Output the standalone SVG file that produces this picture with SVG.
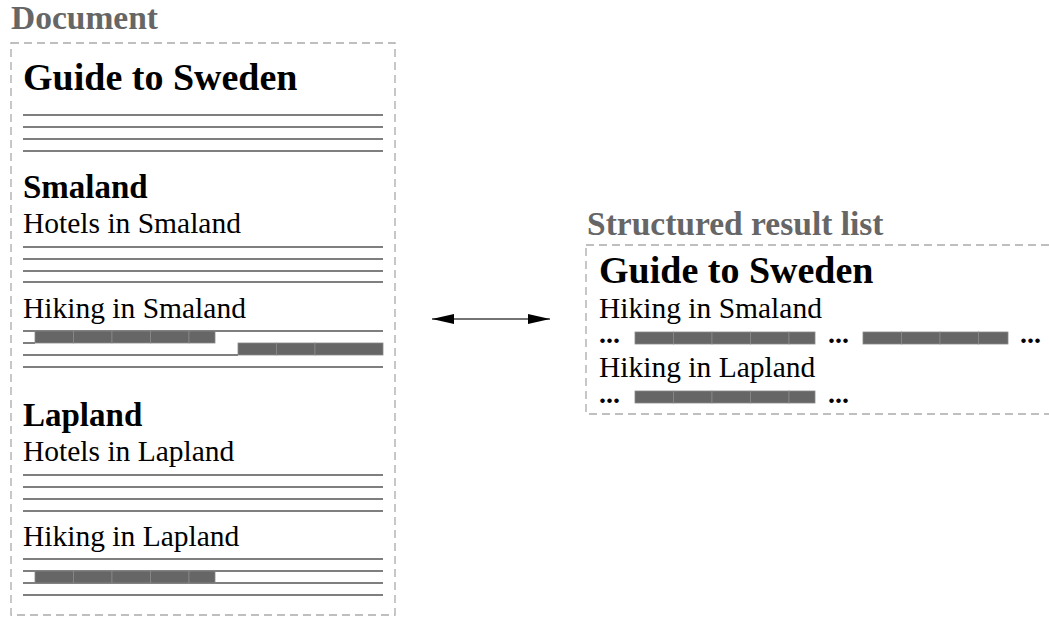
<svg xmlns="http://www.w3.org/2000/svg" width="1049" height="619" viewBox="0 0 1049 619">
<style>
.lbl{font-family:"Liberation Serif","Times New Roman",serif;font-weight:bold;font-size:33.5px;fill:#666}
.title{font-family:"Liberation Serif","Times New Roman",serif;font-weight:bold;font-size:38px;fill:#000}
.head{font-family:"Liberation Serif","Times New Roman",serif;font-weight:bold;font-size:33px;fill:#000}
.txt{font-family:"Liberation Serif","Times New Roman",serif;font-size:29.5px;fill:#000}
.dots{font-family:"Liberation Serif","Times New Roman",serif;font-weight:bold;font-size:28px;fill:#000}
.box{fill:none;stroke:#aaa;stroke-width:1.3;stroke-dasharray:8,5}
.ln{stroke:#555;stroke-width:1.5}
.bar{fill:#666;stroke:#888;stroke-width:0.8}
</style>
<defs>
<marker id="ah" viewBox="0 0 22 10" refX="22" refY="5" markerWidth="22" markerHeight="10" markerUnits="userSpaceOnUse" orient="auto-start-reverse">
<path d="M0,0 L22,5 L0,10 Z" fill="#000"/>
</marker>
</defs>
<g id="document">
<text class="lbl" x="11" y="29">Document</text>
<rect class="box" x="11" y="43" width="384" height="572"/>
<text class="title" x="23" y="90">Guide to Sweden</text>
<g class="ln">
<line x1="23" y1="115" x2="383" y2="115"/>
<line x1="23" y1="127" x2="383" y2="127"/>
<line x1="23" y1="139" x2="383" y2="139"/>
<line x1="23" y1="151" x2="383" y2="151"/>
</g>
<text class="head" x="23" y="198">Smaland</text>
<text class="txt" x="23" y="233">Hotels in Smaland</text>
<g class="ln">
<line x1="23" y1="247" x2="383" y2="247"/>
<line x1="23" y1="259" x2="383" y2="259"/>
<line x1="23" y1="271" x2="383" y2="271"/>
<line x1="23" y1="282" x2="383" y2="282"/>
</g>
<text class="txt" x="23" y="318">Hiking in Smaland</text>
<g class="ln">
<line x1="23" y1="331" x2="383" y2="331"/>
<line x1="23" y1="343" x2="35" y2="343"/>
<line x1="23" y1="355" x2="238" y2="355"/>
<line x1="23" y1="367" x2="383" y2="367"/>
</g>
<g class="bar">
<rect x="35" y="331" width="38.5" height="12"/><rect x="73.5" y="331" width="38.5" height="12"/><rect x="112" y="331" width="38.5" height="12"/><rect x="150.5" y="331" width="38.5" height="12"/><rect x="189" y="331" width="26" height="12"/>
<rect x="238" y="343" width="38.5" height="12"/><rect x="276.5" y="343" width="38.5" height="12"/><rect x="315" y="343" width="68" height="12"/>
</g>
<text class="head" x="23" y="426">Lapland</text>
<text class="txt" x="23" y="461">Hotels in Lapland</text>
<g class="ln">
<line x1="23" y1="475" x2="383" y2="475"/>
<line x1="23" y1="487" x2="383" y2="487"/>
<line x1="23" y1="499" x2="383" y2="499"/>
<line x1="23" y1="511" x2="383" y2="511"/>
</g>
<text class="txt" x="23" y="546">Hiking in Lapland</text>
<g class="ln">
<line x1="23" y1="559" x2="383" y2="559"/>
<line x1="23" y1="571" x2="383" y2="571"/>
<line x1="23" y1="583" x2="383" y2="583"/>
<line x1="23" y1="595" x2="383" y2="595"/>
</g>
<g class="bar">
<rect x="35" y="571" width="38.5" height="12"/><rect x="73.5" y="571" width="38.5" height="12"/><rect x="112" y="571" width="38.5" height="12"/><rect x="150.5" y="571" width="38.5" height="12"/><rect x="189" y="571" width="26" height="12"/>
</g>
</g>
<g id="result-list">
<text class="lbl" x="587" y="235">Structured result list</text>
<rect class="box" x="586" y="245" width="480" height="169"/>
<text class="title" x="599" y="283">Guide to Sweden</text>
<text class="txt" x="599" y="318">Hiking in Smaland</text>
<text class="dots" x="599" y="343">...</text>
<g class="bar">
<rect x="635" y="332" width="38.5" height="12"/><rect x="673.5" y="332" width="38.5" height="12"/><rect x="712" y="332" width="38.5" height="12"/><rect x="750.5" y="332" width="38.5" height="12"/><rect x="789" y="332" width="26" height="12"/>
<rect x="863" y="332" width="38.5" height="12"/><rect x="901.5" y="332" width="38.5" height="12"/><rect x="940" y="332" width="38.5" height="12"/><rect x="978.5" y="332" width="29.5" height="12"/>
</g>
<text class="dots" x="828" y="343">...</text>
<text class="dots" x="1020" y="343">...</text>
<text class="txt" x="599" y="377">Hiking in Lapland</text>
<text class="dots" x="599" y="403">...</text>
<g class="bar">
<rect x="635" y="391" width="38.5" height="12"/><rect x="673.5" y="391" width="38.5" height="12"/><rect x="712" y="391" width="38.5" height="12"/><rect x="750.5" y="391" width="38.5" height="12"/><rect x="789" y="391" width="26" height="12"/>
</g>
<text class="dots" x="828" y="403">...</text>
</g>
<g id="connectors">
<line x1="432" y1="319" x2="550" y2="319" stroke="#444" stroke-width="1.3" marker-start="url(#ah)" marker-end="url(#ah)"/>
</g>
</svg>
